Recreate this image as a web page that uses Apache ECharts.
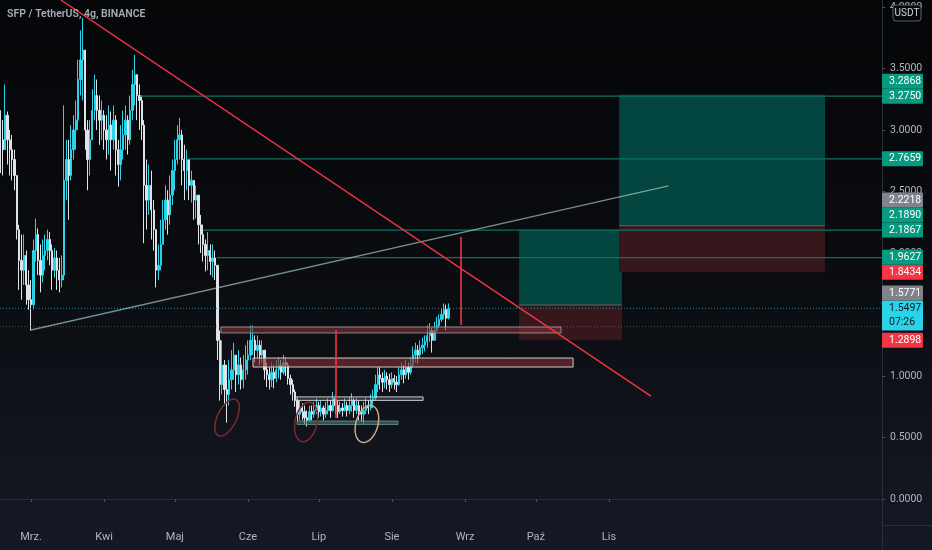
<!DOCTYPE html>
<html><head><meta charset="utf-8">
<script src="https://cdn.jsdelivr.net/npm/echarts@6/dist/echarts.min.js"></script>
<style>html,body{margin:0;padding:0;background:#0b0c10;}
#c{width:932px;height:550px;background:linear-gradient(180deg,#050608 0%,#0a0c10 50%,#151924 100%);}</style>
</head><body><div id="c"></div><script>
// ---------- data ----------
const DAY = 86400000;
const T0 = Date.UTC(2021, 2, 1);           // 1 Mar 2021 = day 0
const firstDay = -13;                      // first daily candle
const firstOpen = 3.00;
const closes = [
 2.92,2.84,3.12,2.92,2.84,2.76,2.63,2.19,1.94,1.86,1.98,1.74,1.62,
 1.58,2.02,2.15,1.94,1.82,1.98,2.02,2.11,2.02,1.86,
 1.96,1.86,1.78,1.82,2.59,2.76,2.63,2.84,3.00,3.08,
 3.41,3.57,3.65,3.00,2.76,2.92,3.16,3.28,3.16,3.08,
 3.12,3.00,2.92,3.04,2.92,3.08,2.84,2.72,2.84,2.96,
 3.08,2.92,3.16,3.37,3.45,3.28,3.24,3.04,2.55,2.43,
 2.55,2.35,2.19,1.86,1.90,2.07,2.27,2.43,2.31,2.47,
 2.67,2.76,2.92,2.96,2.76,2.67,2.76,2.55,2.59,2.43,
 2.47,2.23,2.15,2.07,1.98,2.02,1.93,1.96,1.90,1.29,
 0.93,1.09,0.89,0.85,0.97,1.05,1.17,1.01,1.09,0.97,
 1.05,1.13,1.17,1.29,1.29,1.21,1.25,1.17,1.21,1.05,
 1.01,0.97,1.03,0.98,1.05,1.09,1.03,1.11,1.09,0.98,
 0.93,0.87,0.80,0.69,0.74,0.71,0.66,0.64,0.71,0.69,
 0.72,0.76,0.71,0.74,0.69,0.72,0.76,0.72,0.82,0.76,
 0.71,0.74,0.72,0.76,0.72,0.76,0.80,0.72,0.76,0.71,
 0.69,0.72,0.76,0.74,0.80,0.82,0.93,1.01,0.98,0.95,
 1.00,0.97,0.93,0.98,0.95,0.93,1.01,1.05,1.01,1.07,
 1.03,1.09,1.17,1.21,1.17,1.23,1.25,1.28,1.33,1.37,
 1.29,1.37,1.41,1.46,1.50,1.54,1.47,1.5497
];
const highs = [
 3.16,3.08,3.37,3.15,3.00,2.96,2.84,2.63,2.23,2.15,2.15,2.02,1.86,
 1.78,2.11,2.28,2.20,2.07,2.11,2.15,2.19,2.17,2.07,
 2.04,2.02,1.96,1.98,3.20,2.92,2.92,3.04,3.12,3.24,
 3.57,3.81,3.91,3.53,3.08,3.08,3.33,3.45,3.41,3.28,
 3.24,3.16,3.12,3.20,3.15,3.20,3.12,2.92,3.04,3.16,
 3.20,3.12,3.28,3.49,3.61,3.41,3.37,3.28,3.08,2.76,
 2.72,2.67,2.43,2.11,2.07,2.27,2.43,2.55,2.51,2.63,
 2.76,2.92,3.04,3.10,3.00,2.88,2.84,2.76,2.67,2.59,
 2.55,2.43,2.31,2.23,2.11,2.17,2.07,2.07,2.02,1.90,
 1.37,1.29,1.13,1.09,1.13,1.21,1.27,1.17,1.21,1.15,
 1.17,1.25,1.29,1.41,1.41,1.33,1.33,1.29,1.29,1.21,
 1.11,1.07,1.11,1.09,1.13,1.15,1.13,1.17,1.15,1.11,
 1.01,0.97,0.89,0.82,0.80,0.78,0.76,0.72,0.76,0.76,
 0.79,0.82,0.79,0.80,0.76,0.79,0.82,0.80,0.87,0.85,
 0.80,0.79,0.78,0.82,0.79,0.83,0.86,0.82,0.82,0.80,
 0.76,0.79,0.82,0.80,0.85,0.89,1.01,1.07,1.07,1.03,
 1.05,1.03,1.02,1.03,1.01,1.00,1.07,1.11,1.09,1.13,
 1.11,1.15,1.24,1.27,1.25,1.29,1.31,1.33,1.41,1.43,
 1.39,1.44,1.48,1.50,1.55,1.59,1.58,1.59
];
const lows = [
 2.65,2.63,2.84,2.72,2.63,2.59,2.51,2.11,1.70,1.62,1.74,1.58,1.54,
 1.37,1.54,1.93,1.82,1.68,1.76,1.86,1.94,1.90,1.70,
 1.80,1.70,1.68,1.72,1.78,2.43,2.27,2.59,2.76,2.84,
 3.00,3.28,3.24,2.84,2.51,2.63,2.92,3.08,3.00,2.88,
 2.92,2.84,2.76,2.80,2.67,2.84,2.63,2.54,2.59,2.76,
 2.84,2.80,2.88,3.08,3.20,3.08,3.00,2.92,2.08,2.19,
 2.31,2.11,2.02,1.72,1.78,1.86,2.11,2.19,2.15,2.23,
 2.39,2.51,2.72,2.76,2.55,2.43,2.51,2.43,2.41,2.27,
 2.28,2.07,2.00,1.93,1.85,1.86,1.82,1.80,1.78,1.13,
 0.80,0.85,0.76,0.62,0.76,0.89,0.97,0.87,0.93,0.89,
 0.90,0.97,1.01,1.13,1.17,1.11,1.15,1.09,1.11,0.97,
 0.91,0.89,0.91,0.90,0.95,0.98,0.97,1.01,1.00,0.93,
 0.85,0.80,0.75,0.63,0.64,0.64,0.61,0.59,0.63,0.64,
 0.66,0.69,0.66,0.67,0.64,0.66,0.69,0.66,0.71,0.69,
 0.66,0.69,0.67,0.71,0.67,0.69,0.71,0.66,0.69,0.64,
 0.63,0.61,0.69,0.69,0.72,0.74,0.80,0.87,0.89,0.87,
 0.90,0.89,0.87,0.90,0.89,0.87,0.92,0.97,0.94,0.98,
 0.97,1.01,1.07,1.11,1.10,1.15,1.18,1.20,1.23,1.28,
 1.19,1.29,1.36,1.39,1.44,1.46,1.37,1.46
];
const monthNames = ['Sty','Lut','Mrz.','Kwi','Maj','Cze','Lip','Sie','Wrz','Paź','Lis','Gru'];
const monthTicks = ['2021-03-01','2021-04-01','2021-05-01','2021-06-01','2021-07-01','2021-08-01','2021-09-01','2021-10-01','2021-11-01'];
const yTicks = [0, 0.5, 1, 1.5, 2, 2.5, 3, 3.5, 4];
const viewDays = [-13.14, 360.75];
const priceRange = [-0.2114, 4.0569];
// drawings (day offsets from 1 Mar, prices)
const levels = [[46.2, 3.2750], [66.6, 2.7659], [72.9, 2.1867], [78.8, 1.9627]];
const zones = [[80.5, 224.7, 1.398, 1.350], [94.1, 229.8, 1.146, 1.073], [112.3, 166.2, 0.830, 0.802], [112.8, 155.6, 0.634, 0.606]];
const positions = [[206.9, 250.5, 2.1890, 1.5771, 1.2898], [249.3, 336.6, 3.2868, 2.2218, 1.8434]];
const trendRed = [[12.7, 4.057], [262.8, 0.837]];
const trendGrey = [[0, 1.374], [270.2, 2.545]];
const verticals = [[129.3, 1.374, 0.659], [182.3, 2.130, 1.415]];
const ellipses = [[83.1, 0.662], [116.6, 0.626], [142.4, 0.610]];
const lastPrice = 1.5497;
const dottedLevel = 1.401;
const priceLabels = [
  {v: 3.2868, kind: 'teal'}, {v: 3.2750, kind: 'teal'}, {v: 2.7659, kind: 'teal'},
  {v: 2.2218, kind: 'grey'}, {v: 2.1890, kind: 'teal'}, {v: 2.1867, kind: 'teal'},
  {v: 1.9627, kind: 'teal'}, {v: 1.8434, kind: 'red'}, {v: 1.5771, kind: 'grey'},
  {v: 1.5497, kind: 'cyan', sub: '07:26'}, {v: 1.2898, kind: 'red'}
];

// ---------- styles ----------
const FONT = 'Roboto, "Noto Sans", sans-serif';
const labelColors = {teal: ['#089981', '#ffffff'], grey: ['#80838c', '#ffffff'], red: ['#f23645', '#ffffff'], cyan: ['#2bd3e8', '#131722']};
const zoneStyles = [
  {fill: 'rgba(128,46,51,0.62)', stroke: 'rgba(150,150,155,0.9)'},
  {fill: 'rgba(128,46,51,0.62)', stroke: 'rgba(225,225,225,0.9)'},
  {fill: 'rgba(110,110,110,0.35)', stroke: 'rgba(225,225,225,0.9)'},
  {fill: 'rgba(70,120,112,0.6)', stroke: 'rgba(110,150,142,0.8)'}
];
const ellipseStyles = [
  {rx: 20, ry: 9.5, rot: -64, color: '#7c2b2c'},
  {rx: 20, ry: 11, rot: -78, color: '#7c2b2c'},
  {rx: 19, ry: 11, rot: -74, color: '#c7a78c'}
];

const t = d => T0 + d * DAY;
const candles = closes.map((c, i) => {
  const o = i === 0 ? firstOpen : closes[i - 1];
  return [t(firstDay + i), o, c, Math.min(lows[i], o, c), Math.max(highs[i], o, c)];
});
const monthVals = monthTicks.map(s => Date.parse(s + 'T00:00:00Z'));

const chart = echarts.init(document.getElementById('c'), null, {renderer: 'canvas'});

const lineSeries = (pts, color, width, type, z) => ({
  type: 'line', data: pts, showSymbol: false, symbol: 'none', silent: true, z: z || 5,
  lineStyle: {color, width, type: type || 'solid'}, animation: false
});

const series = [
  {
    type: 'custom', z: 1, silent: true,
    data: positions.map(p => [t(p[0]), t(p[1]), p[2], p[3], p[4]]),
    encode: {x: [0, 1], y: [2, 3, 4]},
    renderItem(params, api) {
      const a = api.coord([api.value(0), api.value(2)]);
      const b = api.coord([api.value(1), api.value(3)]);
      const c = api.coord([api.value(1), api.value(4)]);
      return {type: 'group', children: [
        {type: 'rect', shape: {x: a[0], y: a[1], width: b[0] - a[0], height: b[1] - a[1]}, style: {fill: '#03463f'}},
        {type: 'rect', shape: {x: a[0], y: b[1], width: b[0] - a[0], height: c[1] - b[1]}, style: {fill: '#37171c'}},
        {type: 'line', shape: {x1: a[0], y1: b[1], x2: b[0], y2: b[1]}, style: {stroke: 'rgba(140,120,120,0.7)', lineWidth: 1}}
      ]};
    }
  },
  {
    type: 'candlestick', data: candles, barWidth: 1.8, z: 2, silent: true,
    itemStyle: {color: '#2ad4e6', color0: '#dfe2e8', borderColor: '#2ad4e6', borderColor0: '#dfe2e8', borderWidth: 1}
  },
  lineSeries([[t(viewDays[0]), dottedLevel], [t(viewDays[1]), dottedLevel]], 'rgba(110,115,125,0.6)', 1, [1, 2], 3),
  lineSeries([[t(viewDays[0]), lastPrice], [t(viewDays[1]), lastPrice]], '#1d8a83', 1, [1, 2], 3),
  ...levels.map(l => lineSeries([[t(l[0]), l[1]], [t(viewDays[1]), l[1]]], '#0f7066', 1.2, 'solid', 4)),
  {
    type: 'custom', z: 5, silent: true,
    data: zones.map(zn => [t(zn[0]), t(zn[1]), zn[2], zn[3]]),
    encode: {x: [0, 1], y: [2, 3]},
    renderItem(params, api) {
      const a = api.coord([api.value(0), api.value(2)]);
      const b = api.coord([api.value(1), api.value(3)]);
      const s = zoneStyles[params.dataIndex];
      return {type: 'rect', shape: {x: a[0], y: a[1], width: b[0] - a[0], height: b[1] - a[1]}, style: {fill: s.fill, stroke: s.stroke, lineWidth: 1}};
    }
  },
  lineSeries(trendGrey.map(p => [t(p[0]), p[1]]), 'rgba(190,225,222,0.6)', 1.3, 'solid', 6),
  lineSeries(trendRed.map(p => [t(p[0]), p[1]]), '#f23645', 1.4, 'solid', 6),
  {
    type: 'custom', z: 6, silent: true,
    data: verticals.map(v => [t(v[0]), v[1], v[2]]),
    encode: {x: 0, y: [1, 2]},
    renderItem(params, api) {
      const a = api.coord([api.value(0), api.value(1)]);
      const b = api.coord([api.value(0), api.value(2)]);
      return {type: 'line', shape: {x1: a[0], y1: a[1], x2: b[0], y2: b[1]}, style: {stroke: '#f23645', lineWidth: 1.6}};
    }
  },
  {
    type: 'custom', z: 6, silent: true,
    data: ellipses.map(e => [t(e[0]), e[1]]),
    encode: {x: 0, y: 1},
    renderItem(params, api) {
      const c = api.coord([api.value(0), api.value(1)]);
      const s = ellipseStyles[params.dataIndex];
      const r = s.rot * Math.PI / 180, pts = [];
      for (let i = 0; i < 60; i++) {
        const ang = i / 60 * Math.PI * 2;
        const ex = s.rx * Math.cos(ang), ey = s.ry * Math.sin(ang);
        pts.push([c[0] + ex * Math.cos(r) - ey * Math.sin(r), c[1] + ex * Math.sin(r) + ey * Math.cos(r)]);
      }
      return {type: 'polygon', shape: {points: pts}, style: {fill: 'none', stroke: s.color, lineWidth: 1.5}};
    }
  }
];

chart.setOption({
  animation: false,
  backgroundColor: 'transparent',
  grid: {left: 0, right: 50, top: 0, bottom: 25, containLabel: false},
  xAxis: {
    type: 'value', min: t(viewDays[0]), max: t(viewDays[1]), scale: true,
    axisLine: {show: true, lineStyle: {color: '#2a2e39'}},
    axisTick: {show: true, length: 3, lineStyle: {color: '#50535e'}, customValues: monthVals},
    axisLabel: {color: '#b2b5be', fontSize: 11, fontFamily: FONT, margin: 7,
      customValues: monthVals,
      formatter: v => monthNames[new Date(v).getUTCMonth()]},
    splitLine: {show: false}
  },
  yAxis: {
    type: 'value', position: 'right', min: priceRange[0], max: priceRange[1], scale: true,
    axisLine: {show: true, lineStyle: {color: '#2a2e39'}},
    axisTick: {show: true, length: 3, lineStyle: {color: '#50535e'}, customValues: yTicks},
    axisLabel: {color: '#b2b5be', fontSize: 10.5, fontFamily: FONT, margin: 8, customValues: yTicks, formatter: v => v.toFixed(4)},
    splitLine: {show: false}
  },
  series
});

// price-scale labels, stacked upward like the original
const sorted = priceLabels.slice().sort((a, b) => a.v - b.v);
let prevTop = Infinity;
const labelEls = [];
sorted.forEach(l => {
  let cy = chart.convertToPixel({yAxisIndex: 0}, l.v);
  const bOff = l.sub ? 22 : 7.5, tOff = l.sub ? 8 : 7.5;
  cy = Math.min(cy, prevTop - bOff);
  prevTop = cy - tOff;
  const [bg, fg] = labelColors[l.kind];
  labelEls.push({type: 'rect', z: 100, shape: {x: 882, y: cy - tOff, width: 41, height: tOff + bOff, r: 1}, style: {fill: bg}});
  labelEls.push({type: 'text', z: 101, x: 889, y: cy, style: {text: l.v.toFixed(4), fill: fg, font: '10.5px ' + FONT, verticalAlign: 'middle'}});
  if (l.sub) labelEls.push({type: 'text', z: 101, x: 889, y: cy + 14, style: {text: l.sub, fill: fg, font: '10.5px ' + FONT, verticalAlign: 'middle'}});
});

chart.setOption({
  graphic: [
    {type: 'text', z: 100, x: 7, y: 14, style: {text: 'SFP / TetherUS, 4g, BINANCE', fill: '#a9acb5', font: '600 10.5px ' + FONT, verticalAlign: 'middle'}},
    {type: 'line', z: 50, shape: {x1: 882, y1: 525.5, x2: 932, y2: 525.5}, style: {stroke: '#2a2e39', lineWidth: 1}},
    {type: 'line', z: 50, shape: {x1: 882.5, y1: 525, x2: 882.5, y2: 550}, style: {stroke: '#2a2e39', lineWidth: 1}},
    {type: 'rect', z: 100, shape: {x: 893, y: 5, width: 28, height: 16, r: 3}, style: {fill: '#06070a', stroke: '#5d606b', lineWidth: 1}},
    {type: 'text', z: 101, x: 907, y: 13, style: {text: 'USDT', fill: '#d1d4dc', font: '10px ' + FONT, align: 'center', verticalAlign: 'middle'}},
    ...labelEls
  ]
});
</script></body></html>
